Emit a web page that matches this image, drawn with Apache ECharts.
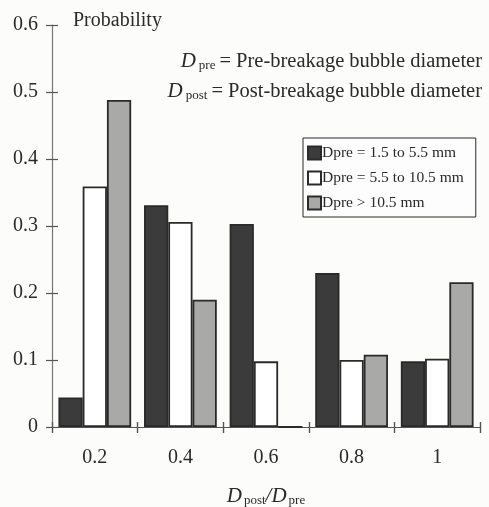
<!DOCTYPE html>
<html>
<head>
<meta charset="utf-8">
<script src="https://cdn.jsdelivr.net/npm/echarts@6/dist/echarts.min.js"></script>
<style>
  html, body { margin: 0; padding: 0; background: #fcfcfa; }
  #chart { width: 489px; height: 507px; }
</style>
</head>
<body>
<div id="chart"></div>
<script>
  // data
  var categories = ['0.2', '0.4', '0.6', '0.8', '1'];
  var seriesNames = ['Dpre = 1.5 to 5.5 mm', 'Dpre = 5.5 to 10.5 mm', 'Dpre > 10.5 mm'];
  var smallBubbles = [0.044, 0.331, 0.303, 0.23, 0.098];
  var mediumBubbles = [0.359, 0.306, 0.098, 0.1, 0.102];
  var largeBubbles = [0.488, 0.19, 0, 0.108, 0.216];
  var yTicks = { min: 0, max: 0.6, interval: 0.1 };

  var serif = 'Liberation Serif';
  var ink = '#2a2a2a';

  var chart = echarts.init(document.getElementById('chart'));

  var gridBox = { left: 52, right: 9, top: 25, bottom: 80, outerBoundsMode: 'none', containLabel: false };

  function bar(name, data, color) {
    return {
      name: name,
      type: 'bar',
      data: data,
      barGap: '0%',
      barCategoryGap: '15%',
      itemStyle: { color: color, borderColor: ink, borderWidth: 1.8 },
      emphasis: { disabled: true }
    };
  }

  var noteRich = {
    d: { fontFamily: serif, fontStyle: 'italic', fontSize: 21, fill: ink },
    s: { fontFamily: serif, fontSize: 13, fill: ink, padding: [9, 4, 0, 3] },
    t: { fontFamily: serif, fontSize: 20.5, fill: ink }
  };

  chart.setOption({
    backgroundColor: '#fcfcfa',
    animation: false,
    textStyle: { fontFamily: serif, color: ink },
    title: {
      text: 'Probability',
      left: 68,
      top: 6,
      textStyle: { fontFamily: serif, fontWeight: 'normal', fontSize: 20, color: ink }
    },
    legend: {
      orient: 'vertical',
      left: 303,
      top: 138,
      padding: [7, 12, 6, 4],
      itemGap: 9,
      itemWidth: 13,
      itemHeight: 13,
      icon: 'rect',
      borderColor: ink,
      borderWidth: 1,
      backgroundColor: '#fdfdfd',
      textStyle: { fontFamily: serif, fontSize: 15.5, color: ink, padding: [0, 0, 0, -4] },
      data: seriesNames
    },
    graphic: [
      {
        type: 'text',
        right: 7,
        top: 51,
        style: { text: '{d|D}{s|pre}{t|= Pre-breakage bubble diameter}', rich: noteRich }
      },
      {
        type: 'text',
        right: 7,
        top: 81,
        style: { text: '{d|D}{s|post}{t|= Post-breakage bubble diameter}', rich: noteRich }
      }
    ],
    grid: [
      Object.assign({}, gridBox),
      Object.assign({}, gridBox)
    ],
    xAxis: [
      {
        type: 'category',
        gridIndex: 0,
        data: categories,
        axisLine: { lineStyle: { color: '#555', width: 1.2 } },
        axisTick: { show: true, length: 6, lineStyle: { color: '#555', width: 1.4 } },
        axisLabel: { fontFamily: serif, fontSize: 20, color: ink, margin: 21 },
        name: '{d|D}{s|post}{r|/}{d|D}{s|pre}',
        nameLocation: 'middle',
        nameGap: 58,
        nameTextStyle: {
          rich: {
            d: { fontFamily: serif, fontStyle: 'italic', fontSize: 21, color: ink },
            s: { fontFamily: serif, fontSize: 13, color: ink, padding: [9, 0, 0, 2] },
            r: { fontFamily: serif, fontStyle: 'italic', fontSize: 21, color: ink }
          }
        }
      },
      {
        type: 'category',
        gridIndex: 1,
        data: categories,
        axisLine: { show: false },
        axisTick: { show: true, inside: true, length: 5, lineStyle: { color: '#555', width: 1.4 } },
        axisLabel: { show: false }
      }
    ],
    yAxis: [
      {
        type: 'value',
        gridIndex: 0,
        min: yTicks.min,
        max: yTicks.max,
        interval: yTicks.interval,
        axisLine: { show: true, lineStyle: { color: '#777', width: 1.2 } },
        axisTick: { show: true, length: 6, lineStyle: { color: '#555', width: 1.2 } },
        axisLabel: { fontFamily: serif, fontSize: 20, color: ink, margin: 14 },
        splitLine: { show: false }
      },
      {
        type: 'value',
        gridIndex: 1,
        min: yTicks.min,
        max: yTicks.max,
        interval: yTicks.interval,
        axisLine: { show: false },
        axisTick: { show: true, inside: true, length: 6, lineStyle: { color: '#555', width: 1.2 } },
        axisLabel: { show: false },
        splitLine: { show: false }
      }
    ],
    series: [
      bar(seriesNames[0], smallBubbles, '#3b3b3b'),
      bar(seriesNames[1], mediumBubbles, '#ffffff'),
      bar(seriesNames[2], largeBubbles, '#a9aaa7')
    ]
  });
</script>
</body>
</html>
